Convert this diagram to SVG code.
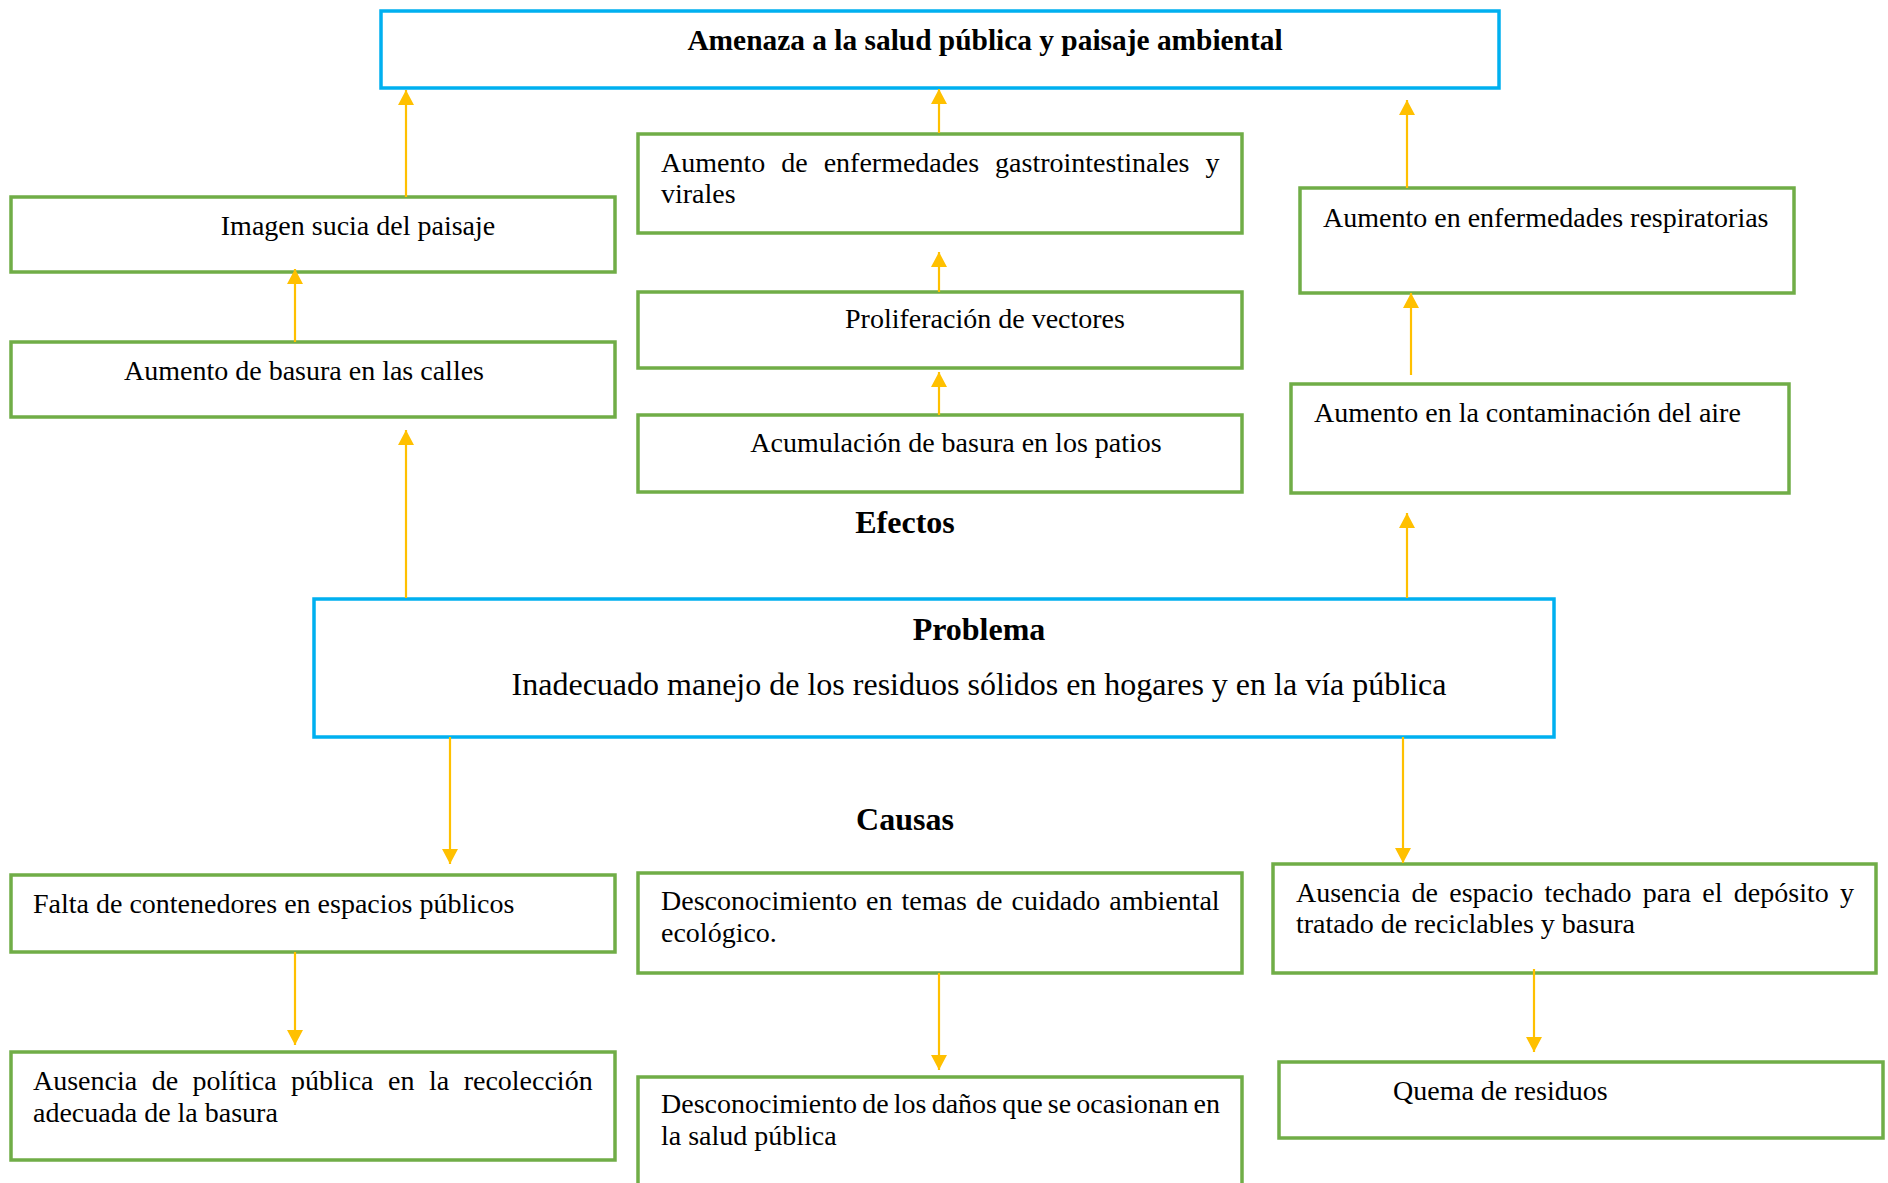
<svg xmlns="http://www.w3.org/2000/svg" width="1888" height="1183" viewBox="0 0 1888 1183">
<style>
text{font-family:"Liberation Serif","Times New Roman",serif;fill:#000;font-size:28px}
.b{font-weight:bold}
.t{font-size:29.4px}
.p{font-size:32px}
.h{font-weight:bold;font-size:32px;text-anchor:middle}
.g{fill:#fff;stroke:#70AD47;stroke-width:3.5}
.bl{fill:#fff;stroke:#00B0F0;stroke-width:3.5}
.c line{stroke:#FFC000;stroke-width:2.2;marker-end:url(#ah)}
.m{text-anchor:middle}
</style>
<defs>
<marker id="ah" markerUnits="userSpaceOnUse" markerWidth="16" markerHeight="16" viewBox="0 0 16 16" refX="15" refY="8" orient="auto">
<path d="M0,0 L15,8 L0,16 z" fill="#FFC000"/>
</marker>
</defs>
<rect width="1888" height="1183" fill="#fff"/>
<g id="top"><rect class="bl" x="381" y="11" width="1118" height="77"/><text class="b m t" x="985" y="50">Amenaza a la salud pública y paisaje ambiental</text></g>
<g id="imagen"><rect class="g" x="11" y="197" width="604" height="75"/><text class="m" x="358" y="235">Imagen sucia del paisaje</text></g>
<g id="basura"><rect class="g" x="11" y="342" width="604" height="75"/><text class="m" x="304" y="380">Aumento de basura en las calles</text></g>
<g id="gastro"><rect class="g" x="638" y="134" width="604" height="99"/><text x="661" y="172" word-spacing="9">Aumento de enfermedades gastrointestinales y</text><text x="661" y="203">virales</text></g>
<g id="prolif"><rect class="g" x="638" y="292" width="604" height="76"/><text class="m" x="985" y="328">Proliferación de vectores</text></g>
<g id="acumul"><rect class="g" x="638" y="415" width="604" height="77"/><text class="m" x="956" y="452">Acumulación de basura en los patios</text></g>
<g id="respir"><rect class="g" x="1300" y="188" width="494" height="105"/><text x="1323" y="227">Aumento en enfermedades respiratorias</text></g>
<g id="contam"><rect class="g" x="1291" y="384" width="498" height="109"/><text x="1314" y="422">Aumento en la contaminación del aire</text></g>
<g id="efectos"><text class="h" x="905" y="533">Efectos</text></g>
<g id="problema"><rect class="bl" x="314" y="599" width="1240" height="138"/><text class="h" x="979" y="640">Problema</text><text class="m p" x="979" y="695">Inadecuado manejo de los residuos sólidos en hogares y en la vía pública</text></g>
<g id="causas"><text class="h" x="905" y="830">Causas</text></g>
<g id="falta"><rect class="g" x="11" y="875" width="604" height="77"/><text x="33" y="913">Falta de contenedores en espacios públicos</text></g>
<g id="ausencia"><rect class="g" x="11" y="1052" width="604" height="108"/><text x="33" y="1090" word-spacing="7.5">Ausencia de política pública en la recolección</text><text x="33" y="1122">adecuada de la basura</text></g>
<g id="desconoc"><rect class="g" x="638" y="873" width="604" height="100"/><text x="661" y="910" word-spacing="2.1">Desconocimiento en temas de cuidado ambiental</text><text x="661" y="942">ecológico.</text></g>
<g id="danos"><rect class="g" x="638" y="1077" width="604" height="120"/><text x="661" y="1113" word-spacing="-1.8">Desconocimiento de los daños que se ocasionan en</text><text x="661" y="1145">la salud pública</text></g>
<g id="espacio"><rect class="g" x="1273" y="864" width="603" height="109"/><text x="1296" y="902" word-spacing="4.3">Ausencia de espacio techado para el depósito y</text><text x="1296" y="933">tratado de reciclables y basura</text></g>
<g id="quema"><rect class="g" x="1279" y="1062" width="604" height="76"/><text x="1393" y="1100">Quema de residuos</text></g>
<g id="connectors" class="c">
<line x1="406" y1="197" x2="406" y2="90"/>
<line x1="295" y1="342" x2="295" y2="269"/>
<line x1="406" y1="598" x2="406" y2="430"/>
<line x1="939" y1="133" x2="939" y2="89"/>
<line x1="939" y1="292" x2="939" y2="252"/>
<line x1="939" y1="415" x2="939" y2="372"/>
<line x1="1407" y1="188" x2="1407" y2="100"/>
<line x1="1411" y1="375" x2="1411" y2="293"/>
<line x1="1407" y1="598" x2="1407" y2="513"/>
<line x1="450" y1="737" x2="450" y2="864"/>
<line x1="295" y1="952" x2="295" y2="1045"/>
<line x1="1403" y1="737" x2="1403" y2="863"/>
<line x1="939" y1="973" x2="939" y2="1070"/>
<line x1="1534" y1="969" x2="1534" y2="1052"/>
</g>
</svg>
